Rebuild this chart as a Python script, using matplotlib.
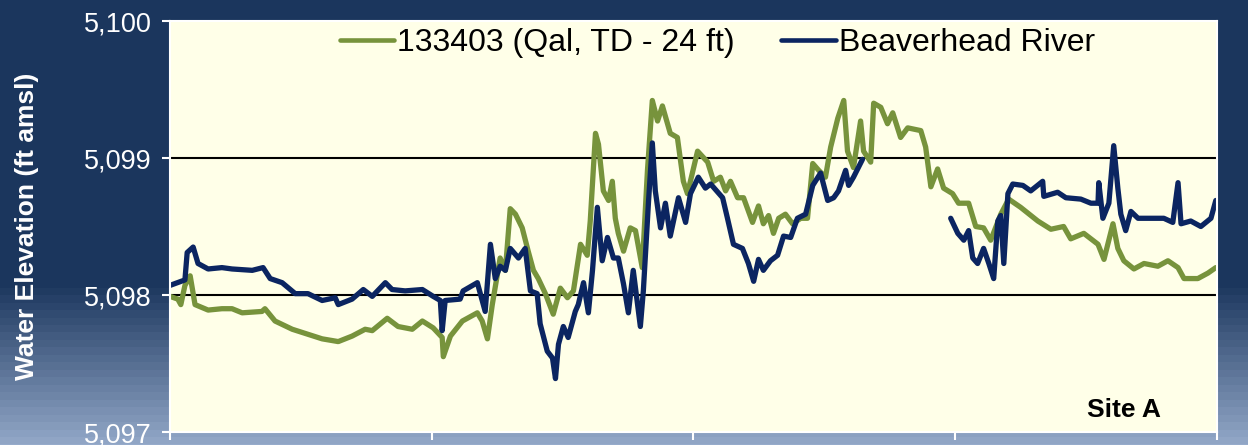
import matplotlib.pyplot as plt
import numpy as np
from matplotlib.ticker import FuncFormatter

plt.rcParams['font.family'] = ['Liberation Sans', 'DejaVu Sans']

# --- DATA ----------------------------- #
# days since start of the logging period
well_days = [0.00, 0.21, 0.29, 0.40, 0.54, 0.67, 1.02, 1.39, 1.66, 1.93, 2.46, 2.54, 2.81,
             3.27, 3.61, 4.07, 4.50, 4.87, 5.22, 5.41, 5.81, 6.10, 6.48, 6.75, 7.04, 7.28,
             7.31, 7.50, 7.82, 8.22, 8.35, 8.49, 8.62, 8.83, 8.97, 9.10, 9.24, 9.42, 9.58,
             9.72, 9.85, 10.04, 10.25, 10.44, 10.63, 10.79, 10.98, 11.16, 11.24, 11.38,
             11.46, 11.59, 11.73, 11.83, 11.91, 11.99, 12.13, 12.31, 12.45, 12.63, 12.77,
             12.90, 13.04, 13.17, 13.38, 13.57, 13.73, 13.84, 14.11, 14.38, 14.54, 14.72,
             14.86, 14.99, 15.18, 15.34, 15.58, 15.74, 15.87, 16.01, 16.14, 16.28, 16.46,
             16.65, 16.87, 17.05, 17.19, 17.35, 17.53, 17.67, 17.86, 18.02, 18.12, 18.28,
             18.47, 18.55, 18.74, 18.82, 19.01, 19.19, 19.33, 19.54, 19.73, 20.08, 20.21,
             20.35, 20.53, 20.69, 20.93, 21.09, 21.36, 21.55, 21.76, 21.95, 22.22, 22.43,
             22.75, 23.21, 23.56, 23.90, 24.09, 24.44, 24.82, 24.98, 25.22, 25.35, 25.51,
             25.78, 26.05, 26.42, 26.69, 26.96, 27.12, 27.49, 27.76, 27.97]
well_elev = [5097.99, 5097.97, 5097.93, 5098.07, 5098.14, 5097.93, 5097.89, 5097.90, 5097.90,
             5097.87, 5097.88, 5097.90, 5097.81, 5097.75, 5097.72, 5097.68, 5097.66, 5097.70,
             5097.75, 5097.74, 5097.83, 5097.77, 5097.75, 5097.81, 5097.76, 5097.69, 5097.55,
             5097.70, 5097.81, 5097.87, 5097.81, 5097.68, 5097.93, 5098.27, 5098.18, 5098.63,
             5098.59, 5098.49, 5098.32, 5098.18, 5098.12, 5098.01, 5097.86, 5098.05, 5097.98,
             5098.03, 5098.37, 5098.29, 5098.54, 5099.18, 5099.10, 5098.76, 5098.69, 5098.83,
             5098.56, 5098.45, 5098.32, 5098.49, 5098.47, 5098.20, 5098.91, 5099.42, 5099.27,
             5099.38, 5099.18, 5099.15, 5098.83, 5098.74, 5099.05, 5098.97, 5098.83, 5098.86,
             5098.76, 5098.83, 5098.71, 5098.71, 5098.53, 5098.65, 5098.52, 5098.58, 5098.45,
             5098.56, 5098.59, 5098.52, 5098.56, 5098.56, 5098.96, 5098.91, 5098.86, 5099.08,
             5099.29, 5099.42, 5099.05, 5098.93, 5099.27, 5099.05, 5098.97, 5099.40, 5099.37,
             5099.25, 5099.33, 5099.15, 5099.22, 5099.20, 5099.08, 5098.79, 5098.92, 5098.78,
             5098.74, 5098.67, 5098.67, 5098.50, 5098.49, 5098.40, 5098.59, 5098.70, 5098.64,
             5098.54, 5098.48, 5098.50, 5098.41, 5098.45, 5098.37, 5098.26, 5098.52, 5098.34,
             5098.25, 5098.19, 5098.23, 5098.21, 5098.25, 5098.20, 5098.12, 5098.12, 5098.16,
             5098.20]

# river stage, logger offline between ~18.5 and ~20.9 days
river_days = [0.00, 0.40, 0.46, 0.62, 0.75, 1.02, 1.39, 1.66, 2.20, 2.49, 2.68, 3.00, 3.35,
              3.69, 4.07, 4.42, 4.50, 4.87, 5.17, 5.41, 5.76, 5.94, 6.29, 6.75, 7.04, 7.23,
              7.28, 7.36, 7.76, 7.84, 8.22, 8.43, 8.57, 8.70, 8.83, 8.97, 9.10, 9.32, 9.50,
              9.64, 9.82, 9.90, 10.09, 10.23, 10.31, 10.39, 10.52, 10.65, 10.84, 10.92, 11.06,
              11.19, 11.30, 11.43, 11.56, 11.70, 11.86, 11.99, 12.13, 12.26, 12.39, 12.58,
              12.66, 12.80, 12.90, 12.98, 13.12, 13.25, 13.38, 13.60, 13.79, 13.92, 14.13,
              14.32, 14.46, 14.78, 14.91, 15.07, 15.31, 15.47, 15.61, 15.74, 15.87, 16.06,
              16.25, 16.41, 16.60, 16.78, 17.00, 17.19, 17.40, 17.59, 17.75, 17.88, 18.07,
              18.15, 18.28, 18.52, 19.70, 20.88, 21.07, 21.23, 21.36, 21.47, 21.60, 21.76,
              21.90, 22.03, 22.14, 22.22, 22.30, 22.41, 22.54, 22.81, 23.02, 23.34, 23.37,
              23.74, 23.96, 24.36, 24.63, 24.82, 24.84, 24.95, 25.11, 25.24, 25.35, 25.43,
              25.56, 25.70, 25.89, 26.23, 26.58, 26.82, 26.96, 27.04, 27.30, 27.57, 27.84,
              27.97]
river_elev = [5098.07, 5098.11, 5098.31, 5098.35, 5098.23, 5098.19, 5098.20, 5098.19, 5098.18,
              5098.20, 5098.12, 5098.09, 5098.01, 5098.01, 5097.96, 5097.98, 5097.93, 5097.97,
              5098.04, 5097.99, 5098.09, 5098.04, 5098.03, 5098.04, 5097.99, 5097.96, 5097.74,
              5097.96, 5097.97, 5098.03, 5098.09, 5097.88, 5098.37, 5098.12, 5098.21, 5098.18,
              5098.34, 5098.27, 5098.34, 5098.03, 5098.01, 5097.79, 5097.59, 5097.54, 5097.39,
              5097.64, 5097.77, 5097.69, 5097.88, 5097.93, 5098.09, 5097.87, 5098.18, 5098.64,
              5098.25, 5098.42, 5098.27, 5098.27, 5098.08, 5097.87, 5098.18, 5097.77, 5098.03,
              5098.69, 5099.11, 5098.76, 5098.49, 5098.67, 5098.43, 5098.71, 5098.53, 5098.74,
              5098.86, 5098.78, 5098.81, 5098.71, 5098.56, 5098.37, 5098.34, 5098.23, 5098.10,
              5098.26, 5098.18, 5098.25, 5098.29, 5098.43, 5098.42, 5098.56, 5098.59, 5098.80,
              5098.89, 5098.69, 5098.71, 5098.76, 5098.91, 5098.80, 5098.86, 5098.99, np.nan,
              5098.56, 5098.45, 5098.40, 5098.47, 5098.27, 5098.23, 5098.34, 5098.23, 5098.12,
              5098.54, 5098.58, 5098.23, 5098.74, 5098.81, 5098.80, 5098.76, 5098.83, 5098.72,
              5098.75, 5098.71, 5098.70, 5098.67, 5098.67, 5098.82, 5098.56, 5098.67, 5099.09,
              5098.78, 5098.59, 5098.47, 5098.61, 5098.56, 5098.56, 5098.56, 5098.53, 5098.82,
              5098.52, 5098.54, 5098.50, 5098.56, 5098.69]

x_ticks = [0, 7, 14, 21, 28]
y_ticks = [5097, 5098, 5099, 5100]

# --- FIGURE / BACKGROUND -------------- #
fig = plt.figure(figsize=(12.48, 4.45), dpi=100)

bg = fig.add_axes([0, 0, 1, 1], zorder=-10)
bg.axis('off')
frac = np.linspace(0, 1, 445)
t = np.clip((frac - 0.63) / 0.37, 0, 1)
t = np.floor(t * 22) / 22  # banded gradient
top = np.array([0x1b, 0x36, 0x5d]) / 255
bottom = np.array([0x96, 0xab, 0xcb]) / 255
img = top + t[:, None] * (bottom - top)
bg.imshow(img[:, None, :], aspect='auto', extent=[0, 1, 0, 1])

# --- PLOT ----------------------------- #
ax = fig.add_axes([0.1362, 0.0292, 0.8389, 0.9236])
ax.set_facecolor('#ffffe8')

ax.plot(well_days, well_elev, color='#77933c', lw=3.8, label='133403 (Qal, TD - 24 ft)',
        solid_joinstyle='round', solid_capstyle='round')
ax.plot(river_days, river_elev, color='#0b2561', lw=3.8, label='Beaverhead River',
        solid_joinstyle='round', solid_capstyle='round')

for y in y_ticks[1:-1]:
    ax.axhline(y, color='black', lw=1.5, zorder=1)

ax.set_xlim(0, 28)
ax.set_ylim(5097, 5100)
ax.set_xticks(x_ticks)
ax.set_xticklabels([])
ax.set_yticks(y_ticks)
ax.yaxis.set_major_formatter(FuncFormatter(lambda v, _: f'{v:,.0f}'))
ax.tick_params(axis='both', colors='white', direction='out', length=6, width=1.5,
               labelsize=19.5, pad=7)
for s in ax.spines.values():
    s.set_color('white')
    s.set_linewidth(1.5)

ax.set_ylabel('Water Elevation (ft amsl)', color='white', fontsize=19, fontweight='bold')
ax.yaxis.set_label_coords(-0.125, 0.5)

ax.text(0.911, 0.054, 'Site A', transform=ax.transAxes, ha='center', va='center',
        fontsize=19, fontweight='bold', color='black')

leg = ax.legend(loc='center', bbox_to_anchor=(0.523, 0.946), ncol=2, frameon=False,
                fontsize=23, handlelength=1.7, handletextpad=0.1, columnspacing=1.45)
for line in leg.get_lines():
    line.set_linewidth(3.3)

fig.savefig('out.png', dpi=100, facecolor=fig.get_facecolor())
